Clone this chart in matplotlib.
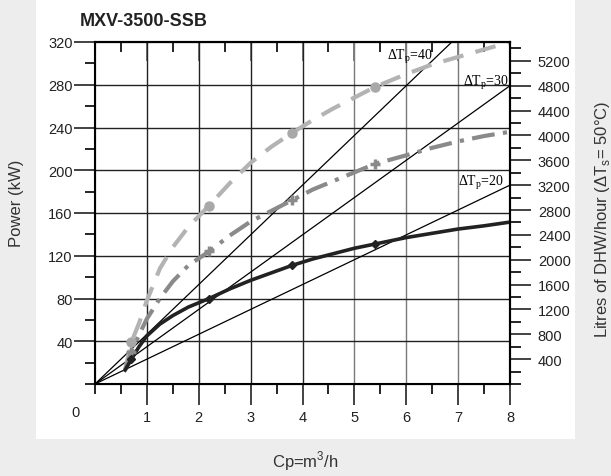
import matplotlib.pyplot as plt
from matplotlib.patches import Rectangle
from matplotlib.ticker import MultipleLocator

# curves (Cp in m3/h, power in kW)
cp_curve = [0.58, 0.7, 0.85, 1.0, 1.25, 1.5, 1.8, 2.2, 2.6, 3.0, 3.4, 3.8, 4.2, 4.6, 5.0, 5.4, 6.0, 6.5, 7.0, 7.5, 8.0]
power_black = [13, 23, 35, 45, 56, 64, 72, 80, 89, 97, 104, 111, 117, 122, 127, 131, 137, 141, 145, 148, 151.5]
power_light = [13, 39, 57, 78, 108, 128, 147, 167, 188, 207, 222, 235, 247, 258, 268, 278, 290, 299, 306, 313, 320]
power_dark = [13, 30, 46, 61, 80, 96, 111, 124, 139, 152, 162, 172, 182, 190, 198, 206, 214, 221, 227, 232, 236]

cp_marks = [0.7, 2.2, 3.8, 5.4]
marks_black = [23, 80, 111, 131]
marks_light = [39, 167, 235, 278]
marks_dark = [30, 124, 172, 206]

# primary temperature differences for the straight lines
delta_tp = [40, 30, 20]
kw_per_cp_k = 1.163
litres_per_kw = 17.2

fig = plt.figure(figsize=(6.11, 4.77), dpi=100)
fig.patch.set_facecolor('#ecedec')
fig.add_artist(Rectangle((36 / 611, 1 - 440 / 477), (575 - 36) / 611, 440 / 477,
                         transform=fig.transFigure, facecolor='white', edgecolor='none', zorder=-1))

ax = fig.add_axes([95 / 611, 1 - 385 / 477, 415 / 611, 342 / 477])
ax.set_xlim(0, 8)
ax.set_ylim(0, 320)
ax.patch.set_alpha(0)

for x in range(1, 8):
    ax.axvline(x, color='#222' if x < 5 else '#7a7a7a', lw=1.0, zorder=1)
for y in range(40, 320, 40):
    ax.axhline(y, color='#222', lw=1.0, zorder=1)

for dt in delta_tp:
    ax.plot([0, 8], [0, 8 * kw_per_cp_k * dt], color='black', lw=0.9, zorder=2)

ax.plot(cp_curve, power_light, color='#b3b3b3', lw=3, ls=(0, (5, 3)), dash_capstyle='butt', zorder=3)
ax.plot(cp_curve, power_dark, color='#8a8a8a', lw=3, ls=(0, (5.5, 2, 1, 2)), dash_capstyle='butt', zorder=3)
ax.plot(cp_curve, power_black, color='#222222', lw=2.6, zorder=4)
ax.plot(cp_marks, marks_light, 'o', color='#a8a8a8', ms=6.5, zorder=5)
ax.plot(cp_marks, marks_dark, '+', color='#8a8a8a', ms=7, mew=2.5, zorder=5)
ax.plot(cp_marks, marks_black, 'D', color='#222222', ms=4.5, zorder=5)

serif = 'Liberation Serif'
ax.text(5.62, 307, 'ΔT$_\\mathregular{p}$=40', family=serif, fontsize=10, va='center', zorder=6)
ax.text(7.98, 283, 'ΔT$_\\mathregular{p}$=30', family=serif, fontsize=10, ha='right', va='center', zorder=6)
ax.text(7.88, 189, 'ΔT$_\\mathregular{p}$=20', family=serif, fontsize=10, ha='right', va='center', zorder=6)

ax.set_xticks(range(1, 9))
ax.set_yticks(range(40, 321, 40))
ax.xaxis.set_minor_locator(MultipleLocator(0.5))
ax.yaxis.set_minor_locator(MultipleLocator(20))
ax.tick_params(which='major', length=15, width=1.2, direction='out', labelsize=10.5,
               colors='#222', labelfontfamily='Liberation Sans')
ax.tick_params(which='minor', length=7, width=1.2, direction='out')
ax.tick_params(axis='x', pad=4)
ax.tick_params(axis='y', pad=1)
for s in ax.spines.values():
    s.set_linewidth(1.5)

top = ax.secondary_xaxis('top')
top.set_xticks(range(1, 8))
top.xaxis.set_minor_locator(MultipleLocator(0.5))
top.tick_params(which='major', direction='in', length=14, width=1.2, color='#666', labeltop=False)
top.tick_params(which='minor', direction='in', length=7, width=1.2)
top.spines['top'].set_linewidth(1.5)

ax2 = ax.twinx()
ax2.set_ylim(0, 320 * litres_per_kw)
ax2.set_yticks(range(400, 5201, 400))
ax2.yaxis.set_minor_locator(MultipleLocator(200))
ax2.tick_params(which='major', length=15, width=1.2, labelsize=10.5, colors='#222', pad=5,
                labelfontfamily='Liberation Sans')
ax2.tick_params(which='minor', length=8, width=1.2)
ax2.spines['right'].set_linewidth(1.5)

sans = 'Liberation Sans'
fig.text(80 / 611, 1 - 21 / 477, 'MXV-3500-SSB', family=sans, fontsize=13, fontweight='bold',
         color='#222', va='center')
fig.text(76 / 611, 1 - 413 / 477, '0', family=sans, fontsize=10.5, color='#222', ha='center', va='center')
fig.text(17 / 611, 1 - 203 / 477, 'Power (kW)', family=sans, fontsize=12, color='#333',
         rotation=90, ha='center', va='center')
fig.text(603 / 611, 1 - 219 / 477, 'Litres of DHW/hour (ΔT$_\\mathregular{s}$= 50°C)', family=sans,
         fontsize=12, color='#333', rotation=90, ha='center', va='center')
fig.text(305 / 611, 1 - 461 / 477, 'Cp=m$^\\mathregular{3}$/h', family=sans, fontsize=12, color='#333',
         ha='center', va='center')

fig.savefig('out.png', dpi=100)
